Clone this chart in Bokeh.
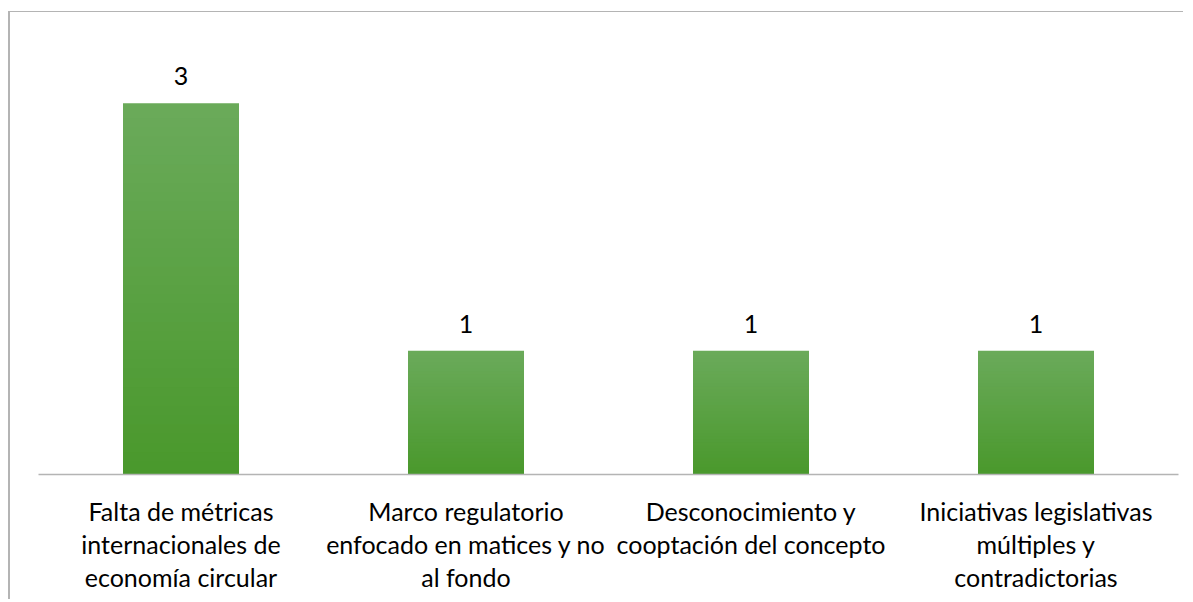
import numpy as np
from bokeh.plotting import figure
from bokeh.models import ColumnDataSource, LabelSet, Range1d, FactorRange
from bokeh.core.properties import value
from bokeh.embed import file_html
from bokeh.resources import INLINE

# ---- data ----
categories = [
    "Falta de métricas\ninternacionales de\neconomía circular",
    "Marco regulatorio\nenfocado en matices y no\nal fondo",
    "Desconocimiento y\ncooptación del concepto",
    "Iniciativas legislativas\nmúltiples y\ncontradictorias",
]
values = [3, 1, 1, 1]

FONT = "Lato"
TOP_RGB = np.array([106, 170, 90])
BOT_RGB = np.array([73, 152, 43])

p = figure(
    x_range=FactorRange(*categories, range_padding=0.0),
    y_range=Range1d(0, 3.5),
    width=1175, height=588,
    output_backend="svg", toolbar_location=None,
    min_border_left=28, min_border_right=7,
    min_border_top=29, min_border_bottom=126,
)
p.styles = {"border-top": "1px solid #b4b4b4",
            "border-left": "2px solid #b4b4b4",
            "margin-top": "11px",
            "margin-left": "8px"}

p.background_fill_color = "white"
p.border_fill_color = "white"
p.outline_line_color = None
p.grid.grid_line_color = None
p.yaxis.visible = False

# gradient bars built from overlapping strips of each value
N = 40
xs, bots, tops, cols = [], [], [], []
for c, v in zip(categories, values):
    for k in range(N):
        t = (k + 0.5) / N
        rgb = (BOT_RGB * (1 - t) + TOP_RGB * t).round().astype(int)
        col = "#%02x%02x%02x" % tuple(rgb)
        xs.append(c)
        bots.append(max(0.0, v * (k - 0.6) / N))
        tops.append(v * (k + 1) / N)
        cols.append(col)
strips = ColumnDataSource(dict(x=xs, bottom=bots, top=tops, color=cols))
p.vbar(x="x", bottom="bottom", top="top", width=0.407, source=strips,
       fill_color="color", line_color=None)

src = ColumnDataSource(dict(x=categories, y=values, label=[str(v) for v in values]))
labels = LabelSet(x="x", y="y", text="label", source=src,
                  text_align="center", text_baseline="bottom", y_offset=18,
                  text_font=value(FONT), text_font_size="25px", text_color="#000000")
p.add_layout(labels)

ax = p.xaxis[0]
ax.axis_line_color = "#b4b4b4"
ax.axis_line_width = 1.5
ax.major_tick_line_color = None
ax.minor_tick_line_color = None
ax.major_label_standoff = 15
ax.major_label_text_font = FONT
ax.major_label_text_font_size = "25px"
ax.major_label_text_color = "#000000"
ax.major_label_text_line_height = 1.11

open("out.html", "w").write(file_html(p, INLINE))
